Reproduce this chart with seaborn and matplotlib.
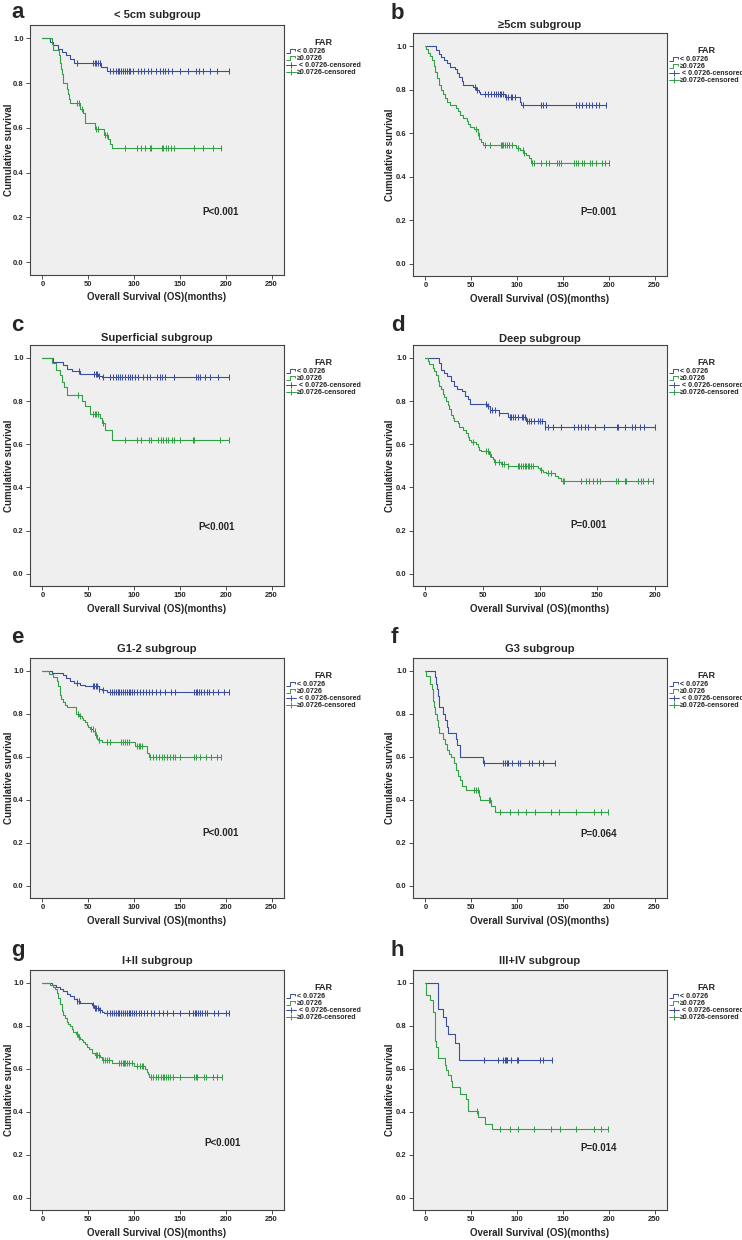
import numpy as np
import matplotlib
matplotlib.use('Agg')
import matplotlib.pyplot as plt
import seaborn as sns
from matplotlib.lines import Line2D
from matplotlib.path import Path

# ---- data (event times, survival after each step, censored times) ----
LEGEND_LABELS = ['< 0.0726', '≥0.0726', ' < 0.0726-censored', '≥0.0726-censored']
TITLES = ['< 5cm subgroup', '≥5cm subgroup', 'Superficial subgroup', 'Deep subgroup',
          'G1-2 subgroup', 'G3 subgroup', 'I+II subgroup', 'III+IV subgroup']
LETTERS = ['a', 'b', 'c', 'd', 'e', 'f', 'g', 'h']
PVALUES = ['P<0.001', 'P=0.001', 'P<0.001', 'P=0.001', 'P<0.001', 'P=0.064', 'P<0.001', 'P=0.014']

# a: < 5cm
a_blue_t = [8, 12, 17, 21, 26, 30, 35, 64, 71]
a_blue_s = [0.985, 0.97, 0.955, 0.94, 0.925, 0.91, 0.89, 0.872, 0.854]
a_blue_c = [38, 55, 57, 59, 61, 63, 74, 77, 80, 82, 84, 86, 88, 90, 92, 94, 96, 99, 104, 108,
            111, 115, 119, 124, 128, 132, 134, 137, 141, 150, 159, 168, 171, 175, 183, 190, 203]
a_green_t = [10, 12, 18, 19, 20, 21, 23, 27, 28, 29, 30, 41, 44, 46, 47, 57, 67, 72, 74, 76]
a_green_s = [0.975, 0.95, 0.925, 0.89, 0.865, 0.84, 0.80, 0.775, 0.75, 0.73, 0.71, 0.685, 0.665,
             0.64, 0.62, 0.595, 0.57, 0.55, 0.53, 0.512]
a_green_c = [38, 40, 43, 59, 61, 68, 70, 90, 103, 108, 112, 117, 119, 130, 132, 135, 137, 140,
             144, 165, 175, 186, 195]

# b: >= 5cm
b_blue_t = [12, 15, 17, 20, 24, 27, 32, 35, 37, 40, 41, 52, 55, 58, 60, 87, 103, 104]
b_blue_s = [0.98, 0.965, 0.95, 0.935, 0.92, 0.905, 0.895, 0.875, 0.86, 0.84, 0.822, 0.81, 0.80,
            0.79, 0.78, 0.765, 0.745, 0.727]
b_blue_c = [54, 56, 65, 68, 72, 75, 77, 79, 81, 83, 85, 88, 90, 93, 95, 98, 106, 126, 128, 132,
            164, 167, 171, 175, 178, 182, 186, 189, 197]
b_green_t = [1, 3, 5, 7, 9, 11, 13, 15, 17, 19, 21, 24, 27, 33, 36, 38, 41, 45, 47, 49, 53, 57,
             58, 61, 63, 99, 103, 107, 110, 113, 115]
b_green_s = [0.985, 0.97, 0.955, 0.935, 0.91, 0.88, 0.855, 0.82, 0.80, 0.78, 0.76, 0.745, 0.73,
             0.715, 0.70, 0.685, 0.67, 0.655, 0.64, 0.63, 0.62, 0.60, 0.575, 0.56, 0.543, 0.53,
             0.52, 0.51, 0.50, 0.485, 0.463]
b_green_c = [55, 57, 65, 71, 82, 84, 85, 87, 89, 91, 94, 101, 106, 108, 116, 119, 126, 132, 135,
             143, 146, 148, 162, 164, 166, 171, 173, 180, 182, 186, 193, 196, 200]

# c: superficial
c_blue_t = [12, 22, 27, 32, 41, 61, 65]
c_blue_s = [0.98, 0.965, 0.95, 0.94, 0.925, 0.918, 0.91]
c_blue_c = [40, 56, 58, 60, 62, 66, 74, 77, 80, 83, 85, 87, 90, 93, 96, 98, 101, 104, 110, 114,
            117, 125, 128, 130, 134, 143, 168, 170, 172, 177, 183, 192, 204]
c_green_t = [11, 15, 19, 21, 24, 27, 43, 46, 52, 63, 65, 68, 76]
c_green_s = [0.975, 0.945, 0.92, 0.89, 0.865, 0.83, 0.80, 0.775, 0.74, 0.72, 0.70, 0.665, 0.622]
c_green_c = [39, 55, 57, 59, 61, 66, 90, 103, 108, 116, 118, 126, 129, 132, 135, 137, 141, 143,
             150, 164, 165, 194, 203]

# d: deep
d_blue_t = [12, 14, 16, 19, 22, 25, 28, 32, 35, 37, 39, 54, 56, 64, 72, 88, 104]
d_blue_s = [0.975, 0.945, 0.93, 0.915, 0.895, 0.87, 0.855, 0.845, 0.825, 0.81, 0.787, 0.775,
            0.76, 0.745, 0.725, 0.71, 0.68]
d_blue_c = [53, 55, 56.5, 58, 61, 64, 74, 75, 76.5, 78, 81, 84, 85, 86.5, 89, 90, 92, 95, 98,
            100, 102, 104.5, 107, 111, 118, 130, 133, 136, 139, 142, 148, 156, 167, 168, 174,
            180, 183, 187, 191, 200]
d_green_t = [2, 3.5, 6.4, 7.9, 9.3, 10.8, 12.2, 13.7, 15.1, 16.6, 18, 19.5, 21, 22.4, 23.9, 25.3,
             28.2, 29.7, 32.6, 35.5, 37, 38.4, 39.9, 44.3, 45.7, 47.2, 48.6, 55.9, 57.4, 58.8,
             60.3, 66, 72, 98, 99.6, 102.5, 105.4, 112.7, 115.6, 118.5]
d_green_s = [0.985, 0.97, 0.955, 0.94, 0.92, 0.895, 0.87, 0.855, 0.835, 0.82, 0.80, 0.78, 0.765,
             0.735, 0.72, 0.71, 0.70, 0.68, 0.665, 0.65, 0.635, 0.62, 0.61, 0.60, 0.585, 0.575,
             0.57, 0.555, 0.54, 0.53, 0.52, 0.51, 0.50, 0.49, 0.48, 0.47, 0.465, 0.455, 0.445,
             0.43]
d_green_c = [42, 53, 54.4, 56, 61, 64, 67, 68.5, 72, 80.6, 82, 83.6, 85, 86.5, 88, 89.4, 90.8,
             92, 93.7, 101, 106.8, 109.6, 120, 121, 136, 140, 143, 146, 150, 152, 166.5, 168,
             174, 175, 185.5, 188.4, 190, 194, 198.5]

# e: G1-2
e_blue_t = [10, 23, 26, 30, 34, 41, 47, 62, 65, 71]
e_blue_s = [0.99, 0.98, 0.965, 0.955, 0.945, 0.935, 0.928, 0.918, 0.91, 0.902]
e_blue_c = [38, 55, 56.5, 58, 60, 62, 66, 74, 76, 78, 80, 82, 84, 86, 88, 90, 92, 94, 96, 98,
            100, 103, 106, 110, 113, 116, 120, 124, 128, 134, 140, 145, 165, 167, 169, 171, 173,
            176, 179, 182, 186, 191, 198, 204]
e_green_t = [7.6, 12, 15.6, 17.4, 19.3, 20.3, 22, 24.7, 26.5, 36.7, 40, 42.9, 44.7, 46.5, 48.3,
             50, 52, 55.6, 57.4, 59.2, 61, 64.7, 101, 113.7, 116.6]
e_green_s = [0.985, 0.97, 0.955, 0.93, 0.89, 0.87, 0.855, 0.84, 0.83, 0.80, 0.79, 0.78, 0.77,
             0.76, 0.75, 0.74, 0.73, 0.72, 0.70, 0.685, 0.68, 0.668, 0.65, 0.62, 0.597]
e_green_c = [39, 41, 53, 55, 57, 58.5, 62, 70, 74, 86, 88, 90, 92, 94, 103, 105, 107, 109, 117,
             121, 124, 127, 130, 133, 136, 139, 142, 145, 150, 165, 167, 172, 178, 184, 190, 195]

# f: G3
f_blue_t = [10, 12, 13, 14, 15, 19, 21, 24, 25, 33, 35, 38, 63]
f_blue_s = [0.97, 0.94, 0.915, 0.885, 0.83, 0.80, 0.77, 0.74, 0.71, 0.685, 0.655, 0.60, 0.57]
f_blue_c = [63.5, 85, 87, 88.5, 90, 94, 101, 103, 113, 116, 124, 128, 141]
f_green_t = [0.7, 5.4, 6.8, 7.9, 9, 10.4, 12.6, 14, 15, 18.7, 21.2, 23.3, 25.8, 28.3, 31.2, 33,
             35.5, 37.7, 40.2, 43.8, 58, 60, 71.4, 76]
f_green_s = [0.975, 0.94, 0.915, 0.86, 0.83, 0.80, 0.77, 0.74, 0.71, 0.685, 0.66, 0.63, 0.615,
             0.60, 0.57, 0.54, 0.51, 0.49, 0.465, 0.445, 0.42, 0.40, 0.37, 0.345]
f_green_c = [53, 55, 57, 69, 70.5, 81.4, 92, 101, 110, 120, 137, 146, 164, 184, 191, 199]

# g: I+II
g_blue_t = [10, 15, 19, 23, 27, 30, 34, 38, 41, 54, 56, 62, 65, 67]
g_blue_s = [0.99, 0.98, 0.97, 0.96, 0.95, 0.94, 0.925, 0.915, 0.905, 0.895, 0.885, 0.875, 0.865,
            0.858]
g_blue_c = [38, 40, 55, 57, 59, 61, 63, 70, 74, 76, 78, 80, 82, 84, 86, 88, 90, 92, 94, 96, 98,
            100, 102, 105, 108, 111, 114, 118, 122, 127, 131, 136, 142, 150, 160, 164, 166, 168,
            170, 172, 174, 177, 180, 187, 191, 200, 203]
g_green_t = [8.4, 11.3, 13.8, 15.6, 17.4, 19.3, 21, 22.9, 24.7, 26.5, 28.3, 30.2, 32, 33.8, 36.7,
             39.2, 41, 42.9, 44.7, 46.5, 49, 51.2, 53.8, 57.4, 62.9, 64.7, 75.6, 100, 112, 113.7,
             115.5, 116.6]
g_green_s = [0.99, 0.98, 0.97, 0.955, 0.93, 0.90, 0.87, 0.85, 0.835, 0.82, 0.81, 0.80, 0.785,
             0.77, 0.76, 0.75, 0.74, 0.735, 0.725, 0.715, 0.70, 0.69, 0.675, 0.665, 0.655, 0.64,
             0.625, 0.612, 0.60, 0.585, 0.575, 0.56]
g_green_c = [38, 40, 58.5, 60, 62, 66.5, 68, 70, 73, 84, 85.5, 87.6, 89, 90.5, 92, 94, 97.5, 103,
             106.5, 108.3, 110, 119, 121, 124, 126.5, 129, 131, 133, 135, 137.4, 139, 142.8, 150,
             165, 167, 169, 176, 178, 186, 190, 195.5]

# h: III+IV
h_blue_t = [14, 19, 22, 25, 32, 37]
h_blue_s = [0.88, 0.84, 0.80, 0.76, 0.72, 0.64]
h_blue_c = [63.5, 79.6, 85, 87, 88, 89.4, 93, 99.6, 101.4, 124.5, 128, 138]
h_green_t = [1, 5, 8, 10, 11, 12, 14, 21, 23, 25, 27.5, 29, 38, 44, 46, 47, 57, 65, 73]
h_green_s = [0.945, 0.92, 0.865, 0.81, 0.73, 0.70, 0.65, 0.62, 0.595, 0.57, 0.545, 0.515, 0.485,
             0.46, 0.43, 0.405, 0.375, 0.345, 0.32]
h_green_c = [56, 81.4, 92, 101, 119, 137, 147, 164, 184, 191, 199]

# ---- style ----
BLUE = '#3c4f9e'
GREEN = '#33a047'
BG = '#efefef'
W, H = 742, 1240

sns.set_style('white')
plt.rcParams['font.family'] = ['Liberation Sans', 'DejaVu Sans']
plt.rcParams['font.weight'] = 'bold'

fig = plt.figure(figsize=(W / 100, H / 100), dpi=100)

# axes boxes in pixels: left, top, right, bottom
boxes = [(30, 25, 284, 275), (413, 33, 667, 276),
         (30, 345, 284, 586), (413, 345, 667, 586),
         (30, 658, 284, 898), (413, 658, 667, 898),
         (30, 970, 284, 1210), (413, 970, 667, 1210)]
title_y = [15, 25, 338, 339, 649, 649, 961, 961]
letter_y = [18, 19, 331, 331, 643, 643, 956, 956]
p_pos = [(194, 0.223), (189, 0.239), (190, 0.216), (142, 0.228),
         (194, 0.246), (189, 0.239), (196, 0.255), (189, 0.231)]

curves = [(a_blue_t, a_blue_s, a_blue_c, a_green_t, a_green_s, a_green_c),
          (b_blue_t, b_blue_s, b_blue_c, b_green_t, b_green_s, b_green_c),
          (c_blue_t, c_blue_s, c_blue_c, c_green_t, c_green_s, c_green_c),
          (d_blue_t, d_blue_s, d_blue_c, d_green_t, d_green_s, d_green_c),
          (e_blue_t, e_blue_s, e_blue_c, e_green_t, e_green_s, e_green_c),
          (f_blue_t, f_blue_s, f_blue_c, f_green_t, f_green_s, f_green_c),
          (g_blue_t, g_blue_s, g_blue_c, g_green_t, g_green_s, g_green_c),
          (h_blue_t, h_blue_s, h_blue_c, h_green_t, h_green_s, h_green_c)]

step_marker = Path([(-1, -0.45), (-0.15, -0.45), (-0.15, 0.45), (0.85, 0.45), (0.85, 0.05)],
                   [Path.MOVETO] + [Path.LINETO] * 4)


def km_curve(ax, times, surv, cens, color):
    times = np.asarray(times, float)
    full = np.r_[1.0, surv]
    end = max(max(cens), times[-1])
    xs = np.r_[0.0, times, end]
    ys = np.r_[full, full[-1]]
    sns.lineplot(x=xs, y=ys, drawstyle='steps-post', estimator=None, sort=False,
                 color=color, linewidth=0.8, ax=ax)
    cens = np.asarray(cens, float)
    cy = full[np.searchsorted(times, cens, side='right')]
    sns.scatterplot(x=cens, y=cy, marker='|', s=20, color=color, linewidth=0.75, ax=ax, zorder=3)


for i, (l, t, r, b) in enumerate(boxes):
    ax = fig.add_axes([l / W, 1 - b / H, (r - l) / W, (b - t) / H])
    ax.set_facecolor(BG)
    bt, bs, bc, gt, gs, gc = curves[i]
    km_curve(ax, bt, bs, bc, BLUE)
    km_curve(ax, gt, gs, gc, GREEN)

    if LETTERS[i] == 'd':
        ax.set_xlim(-10.7, 210.7)
        ax.set_xticks([0, 50, 100, 150, 200])
    else:
        ax.set_xlim(-13.5, 263.5)
        ax.set_xticks([0, 50, 100, 150, 200, 250])
    ax.set_ylim(-0.057, 1.06)
    ax.set_yticks([0, 0.2, 0.4, 0.6, 0.8, 1.0])
    ax.set_yticklabels(['0.0', '0.2', '0.4', '0.6', '0.8', '1.0'])
    ax.tick_params(bottom=True, left=True, length=3, width=0.6, color='#333333',
                   labelsize=5.5, pad=1.5)
    for s in ax.spines.values():
        s.set_color('#444444')
        s.set_linewidth(0.8)

    hpx = b - t
    ax.set_xlabel('Overall Survival (OS)(months)', fontsize=7, fontweight='bold')
    ax.set_ylabel('Cumulative survival', fontsize=7, fontweight='bold')
    ax.xaxis.set_label_coords(0.5, -17.5 / hpx)
    if l > 100:
        ax.yaxis.set_label_coords((395 - 413) / 254, 0.5)
    else:
        ax.yaxis.set_label_coords((14 - 30) / 254, 0.5)

    px, py = p_pos[i]
    ax.text(px, py, PVALUES[i], ha='center', va='center', fontsize=7, fontweight='bold')

    handles = [Line2D([], [], linestyle='none', marker=step_marker, markersize=7.5,
                      markerfacecolor='none', markeredgecolor=BLUE, markeredgewidth=0.7),
               Line2D([], [], linestyle='none', marker=step_marker, markersize=7.5,
                      markerfacecolor='none', markeredgecolor=GREEN, markeredgewidth=0.7),
               Line2D([], [], color=BLUE, linewidth=0.7, marker='|', markersize=5,
                      markeredgewidth=0.7),
               Line2D([], [], color=GREEN, linewidth=0.7, marker='|', markersize=5,
                      markeredgewidth=0.7)]
    leg = ax.legend(handles, LEGEND_LABELS, title='FAR', loc='upper left',
                    bbox_to_anchor=(1.0 + 1.5 / 254, 1 - 13 / hpx), frameon=False, fontsize=5.1,
                    title_fontproperties={'weight': 'bold', 'size': 6.5},
                    handlelength=1.45, handletextpad=0.2, labelspacing=0.0,
                    borderpad=0, borderaxespad=0)
    leg._legend_box.sep = 1

    xc = (l + r) / 2
    fig.text(xc / W, 1 - title_y[i] / H, TITLES[i], ha='center', va='center',
             fontsize=8, fontweight='bold')
    fig.text((11 if l < 100 else 391) / W, 1 - letter_y[i] / H, LETTERS[i],
             ha='left', va='baseline', fontsize=16, fontweight='bold')

fig.savefig('out.png', dpi=100, facecolor='white')
